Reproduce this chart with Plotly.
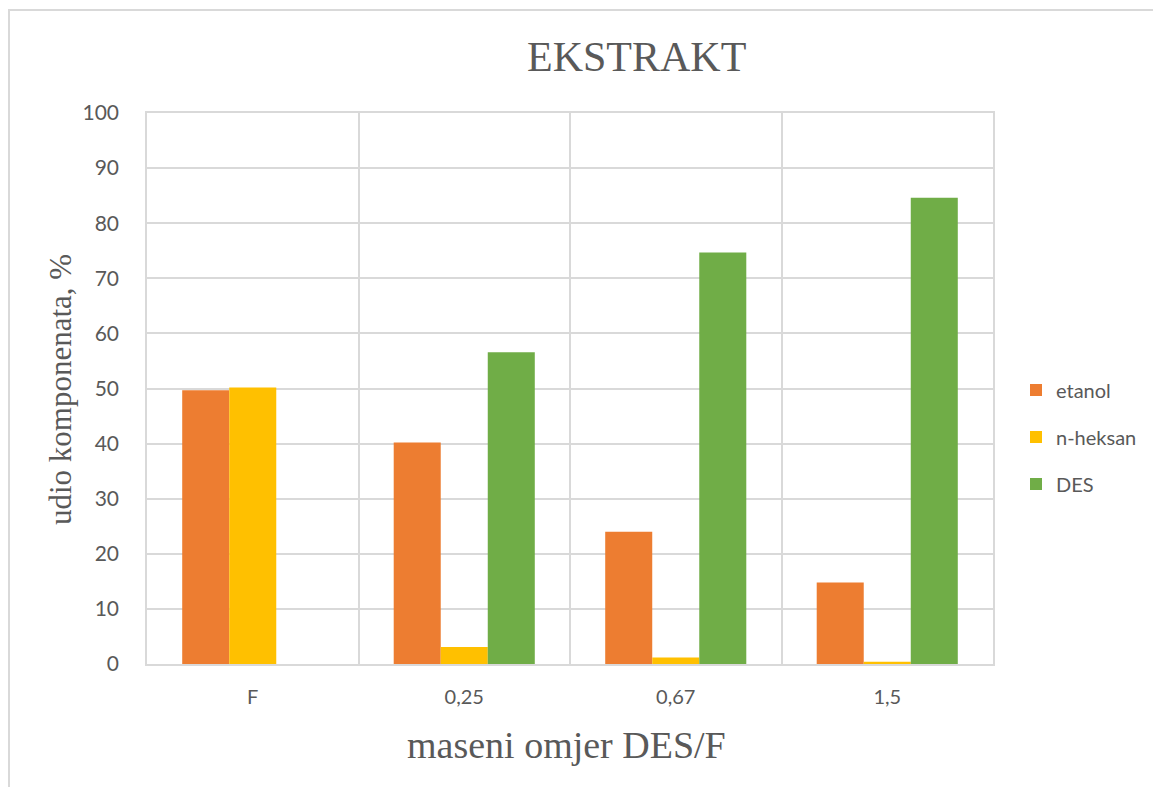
import plotly.graph_objects as go

categories = ["F", "0,25", "0,67", "1,5"]
etanol = [49.7, 40.2, 24.0, 14.8]
n_heksan = [50.2, 3.1, 1.2, 0.4]
des = [0.0, 56.6, 74.7, 84.6]
y_ticks = list(range(0, 101, 10))

W, H = 1161, 787
OFF = 8  # browser body margin
L, R, T, B = 147 - OFF, 993 - OFF, 113 - OFF, 664 - OFF
pw, ph = R - L, B - T

def px_x(px):
    return (px - OFF - L) / pw

def px_y(py):
    return (B - (py - OFF)) / ph

grey_text = "#595959"
grid = "#d9d9d9"

fig = go.Figure()
series = [("etanol", etanol, "#ED7D31"), ("n-heksan", n_heksan, "#FFC000"), ("DES", des, "#70AD47")]
for name, vals, col in series:
    fig.add_trace(go.Bar(x=categories, y=vals, name=name, marker=dict(color=col, line=dict(width=0)),
                         legendgroup=name))

fig.update_layout(
    width=W, height=H,
    margin=dict(l=L, r=W - R, t=T, b=H - B, autoexpand=False),
    paper_bgcolor="white", plot_bgcolor="white",
    barmode="group", bargap=0.333, bargroupgap=0,
    font=dict(family="Lato, Liberation Sans, sans-serif", color=grey_text),
    showlegend=True,
    legend=dict(x=px_x(1016), xanchor="left", y=px_y(437), yanchor="middle",
                font=dict(size=20, color=grey_text, family="Lato"),
                tracegroupgap=18, bgcolor="rgba(0,0,0,0)", itemclick=False),
)

fig.update_xaxes(
    type="category", tickson="boundaries", showgrid=True, gridcolor=grid, gridwidth=1.5,
    showline=True, linecolor=grid, linewidth=1.5, mirror=True,
    ticks="", tickfont=dict(size=20, color=grey_text, family="Lato"), ticklabelstandoff=14,
    zeroline=False,
)
fig.update_yaxes(
    range=[0, 100], tickvals=y_ticks, showgrid=True, gridcolor=grid, gridwidth=1.5,
    showline=True, linecolor=grid, linewidth=1.5, mirror=True,
    ticks="", tickfont=dict(size=21, color=grey_text, family="Lato"), ticklabelstandoff=22,
    zeroline=False,
)

# chart border
fig.add_shape(type="rect", xref="paper", yref="paper",
              x0=px_x(9), x1=px_x(1185), y0=px_y(810), y1=px_y(10),
              line=dict(color=grid, width=2), fillcolor="rgba(0,0,0,0)", layer="below")

fig.add_annotation(text="EKSTRAKT", xref="paper", yref="paper", x=px_x(636), y=px_y(57),
                   xanchor="center", yanchor="middle", showarrow=False,
                   font=dict(family="Liberation Serif", size=42, color=grey_text))
fig.add_annotation(text="maseni omjer DES/F", xref="paper", yref="paper", x=px_x(566), y=px_y(745),
                   xanchor="center", yanchor="middle", showarrow=False,
                   font=dict(family="Liberation Serif", size=38, color=grey_text))
fig.add_annotation(text="udio komponenata, %", xref="paper", yref="paper", x=px_x(60), y=px_y(390),
                   xanchor="center", yanchor="middle", showarrow=False, textangle=-90,
                   font=dict(family="Liberation Serif", size=31, color=grey_text))

fig.write_html("out.html")
